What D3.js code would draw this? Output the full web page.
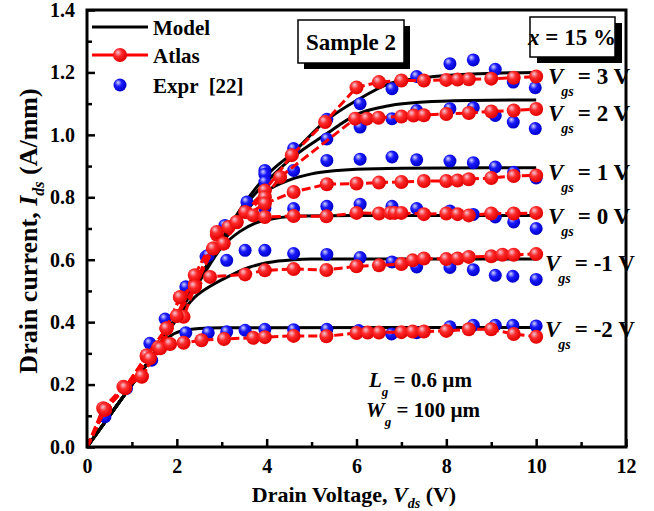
<!DOCTYPE html>
<html><head><meta charset="utf-8">
<script src="https://cdn.jsdelivr.net/npm/d3@7"></script>
<style>
body{margin:0;background:#fff;}
text{font-family:"Liberation Serif","Times New Roman",serif;font-weight:bold;}
</style></head>
<body><svg id="chart" width="654" height="511"></svg>
<script>
// ---------- DATA ----------
const xTicksMajor = [0,2,4,6,8,10,12];
const yTicksMajor = [0,0.2,0.4,0.6,0.8,1.0,1.2,1.4];
const vgsLabels = ["3 V","2 V","1 V","0 V","-1 V","-2 V"];

const modelVgs3 = [[0,0],[0.5,0.1],[1,0.2],[1.5,0.3],[2,0.42],[2.5,0.54],[3,0.665],[3.5,0.78],[4,0.87],[4.6,0.945],[5.3,1.043],[6,1.11],[6.75,1.165],[7.5,1.183],[8.75,1.196],[10,1.2]];
const modelVgs2 = [[0,0],[0.5,0.1],[1,0.2],[1.5,0.3],[2,0.42],[2.5,0.54],[3,0.66],[3.5,0.77],[4,0.85],[4.6,0.93],[5.3,1.0],[6,1.065],[6.75,1.094],[7.5,1.105],[8.5,1.11],[10,1.112]];
const modelVgs1 = [[0,0],[0.5,0.1],[1,0.2],[1.5,0.3],[2,0.42],[2.5,0.54],[3,0.65],[3.5,0.75],[4,0.82],[4.5,0.855],[5,0.875],[5.5,0.885],[6,0.89],[7,0.893],[10,0.895]];
const modelVgs0 = [[0,0],[0.5,0.1],[1,0.2],[1.5,0.3],[2,0.42],[2.5,0.53],[3,0.64],[3.4,0.69],[3.8,0.72],[4.2,0.733],[4.8,0.74],[6,0.742],[10,0.742]];
const modelVgsM1 = [[0,0],[0.5,0.1],[1,0.2],[1.5,0.3],[2,0.41],[2.4,0.48],[2.8,0.52],[3.2,0.55],[3.6,0.575],[4,0.59],[4.6,0.6],[5,0.602],[10,0.602]];
const modelVgsM2 = [[0,0],[0.5,0.1],[1,0.2],[1.5,0.3],[1.8,0.35],[2.1,0.372],[2.5,0.38],[3,0.382],[10,0.383]];

const atlasVgs3 = [[0,0],[0.4,0.12],[0.85,0.19],[1.33,0.29],[1.77,0.38],[2.07,0.48],[2.4,0.52],[2.89,0.68],[3.33,0.72],[3.96,0.822],[4.56,0.935],[5.3,1.041],[6.0,1.152],[6.5,1.169],[7.0,1.174],[7.5,1.174],[8.0,1.176],[8.25,1.177],[8.5,1.178],[9.0,1.18],[9.5,1.183],[10.0,1.187]];
const atlasVgs2 = [[0,0],[0.4,0.12],[0.85,0.19],[1.33,0.29],[1.77,0.38],[2.07,0.48],[2.4,0.52],[2.81,0.636],[3.04,0.652],[3.52,0.753],[3.96,0.80],[4.3,0.865],[5.97,1.052],[6.23,1.052],[6.49,1.055],[7.0,1.059],[7.27,1.062],[7.5,1.063],[8.0,1.067],[8.5,1.07],[9.0,1.075],[9.5,1.078],[10.0,1.083]];
const atlasVgs1 = [[0,0],[0.36,0.124],[0.81,0.193],[1.22,0.225],[1.59,0.32],[2.0,0.42],[2.4,0.55],[2.89,0.689],[3.15,0.705],[3.96,0.78],[4.6,0.817],[5.34,0.842],[6.0,0.844],[6.5,0.847],[7.0,0.849],[7.5,0.852],[8.0,0.852],[8.25,0.854],[8.5,0.858],[9.0,0.862],[9.5,0.868],[10.0,0.870]];
const atlasVgs0 = [[0,0],[0.4,0.12],[0.85,0.19],[1.33,0.294],[1.77,0.38],[2.15,0.417],[2.4,0.513],[2.81,0.636],[3.04,0.652],[3.33,0.721],[3.7,0.742],[3.96,0.737],[4.6,0.74],[5.33,0.739],[6.0,0.75],[6.5,0.748],[6.75,0.75],[6.85,0.75],[7.0,0.75],[7.5,0.746],[8.0,0.748],[8.25,0.746],[8.5,0.742],[9.0,0.748],[9.5,0.748],[10.0,0.75]];
const atlasVgsM1 = [[0,0],[0.4,0.12],[0.85,0.19],[1.22,0.227],[1.63,0.316],[2.0,0.42],[2.4,0.513],[2.74,0.545],[3.52,0.553],[3.96,0.566],[4.6,0.57],[5.33,0.567],[6.0,0.579],[6.5,0.582],[7.0,0.586],[7.25,0.598],[7.5,0.604],[8.0,0.602],[8.25,0.604],[8.5,0.609],[9.0,0.611],[9.25,0.616],[9.5,0.616],[10.0,0.618]];
const atlasVgsM2 = [[0,0],[0.4,0.12],[0.85,0.19],[1.4,0.284],[1.85,0.33],[2.15,0.334],[2.55,0.342],[3.05,0.346],[3.7,0.35],[3.96,0.352],[4.6,0.356],[5.33,0.355],[6.0,0.365],[6.25,0.367],[6.5,0.367],[7.0,0.368],[7.25,0.37],[7.5,0.37],[8.0,0.372],[8.5,0.377],[9.0,0.377],[9.5,0.362],[10.0,0.353]];

const exprVgs3 = [[0.4,0.097],[0.88,0.188],[1.44,0.278],[1.74,0.41],[2.2,0.513],[2.65,0.61],[3.07,0.71],[3.56,0.785],[3.96,0.886],[4.6,0.956],[5.34,1.05],[6.08,1.1],[6.79,1.148],[7.34,1.187],[8.08,1.228],[8.6,1.24],[9.09,1.21],[9.49,1.169],[9.98,1.151]];
const exprVgs2 = [[3.96,0.874],[5.34,0.987],[6.08,1.025],[6.79,1.052],[7.34,1.078],[8.08,1.084],[8.6,1.087],[9.09,1.062],[9.49,1.041],[9.98,1.02]];
const exprVgs1 = [[3.96,0.849],[4.6,0.886],[5.34,0.918],[6.08,0.922],[6.79,0.929],[7.34,0.92],[8.08,0.916],[8.6,0.911],[9.09,0.897],[9.5,0.88],[10.0,0.862]];
const exprVgs0 = [[3.96,0.765],[4.6,0.764],[5.34,0.771],[6.08,0.778],[6.79,0.771],[7.34,0.764],[8.08,0.756],[8.6,0.745],[9.09,0.737],[9.5,0.721],[10.0,0.70]];
const exprVgsM1 = [[2.7,0.614],[3.11,0.598],[3.52,0.63],[3.96,0.63],[4.6,0.62],[5.34,0.617],[6.08,0.607],[6.79,0.593],[7.34,0.577],[8.08,0.575],[8.6,0.568],[9.09,0.55],[9.48,0.547],[10.0,0.537]];
const exprVgsM2 = [[1.4,0.332],[2.2,0.366],[2.7,0.366],[3.11,0.369],[3.52,0.374],[3.96,0.377],[4.6,0.376],[5.34,0.377],[6.05,0.373],[6.78,0.362],[7.34,0.366],[8.08,0.385],[8.6,0.39],[9.09,0.39],[9.48,0.39],[10.0,0.388]];

const modelSeries = [modelVgs3, modelVgs2, modelVgs1, modelVgs0, modelVgsM1, modelVgsM2];
const atlasSeries = [atlasVgs3, atlasVgs2, atlasVgs1, atlasVgs0, atlasVgsM1, atlasVgsM2];
const exprSeries = [exprVgs3, exprVgs2, exprVgs1, exprVgs0, exprVgsM1, exprVgsM2];
const labelCurrent = [1.2, 1.082, 0.893, 0.752, 0.603, 0.392];

// ---------- CHART ----------
const svg = d3.select("#chart");
const L = 87, R = 626, T = 10, B = 447;
const x = d3.scaleLinear().domain([0,12]).range([L,R]);
const y = d3.scaleLinear().domain([0,1.4]).range([B,T]);

const defs = svg.append("defs");
function ballGrad(id, hi, mid, dark){
  const g = defs.append("radialGradient").attr("id",id)
    .attr("cx","40%").attr("cy","40%").attr("r","60%").attr("fx","35%").attr("fy","30%");
  g.append("stop").attr("offset","0%").attr("stop-color",hi);
  g.append("stop").attr("offset","45%").attr("stop-color",mid);
  g.append("stop").attr("offset","100%").attr("stop-color",dark);
}
ballGrad("gRed","#f4c8d8","#ff2a2a","#e00000");
ballGrad("gBlue","#d8d8ff","#1a1aff","#0000c8");

const clip = defs.append("clipPath").attr("id","plotclip");
clip.append("rect").attr("x",L).attr("y",T).attr("width",R-L).attr("height",B-T);

// axes ticks (inward)
const xAxis = svg.append("g").attr("transform",`translate(0,${B})`)
  .call(d3.axisBottom(x).tickValues(xTicksMajor).tickSizeInner(-8).tickSizeOuter(0).tickPadding(12).tickFormat(d3.format("d")));
const xMinor = svg.append("g").attr("transform",`translate(0,${B})`)
  .call(d3.axisBottom(x).tickValues(d3.range(1,12,2)).tickSizeInner(-5).tickSizeOuter(0).tickFormat(""));
const yAxis = svg.append("g").attr("transform",`translate(${L},0)`)
  .call(d3.axisLeft(y).tickValues(yTicksMajor).tickSizeInner(-8).tickSizeOuter(0).tickPadding(12).tickFormat(d3.format(".1f")));
const yMinor = svg.append("g").attr("transform",`translate(${L},0)`)
  .call(d3.axisLeft(y).tickValues(d3.range(0.1,1.4,0.2)).tickSizeInner(-5).tickSizeOuter(0).tickFormat(""));
[xAxis,xMinor,yAxis,yMinor].forEach(g=>{
  g.select(".domain").remove();
  g.selectAll(".tick line").attr("stroke","#000").attr("stroke-width",2.5);
  g.selectAll(".tick text").attr("fill","#000").style("font-size","20px")
    .style("font-family","'Liberation Serif','Times New Roman',serif").style("font-weight","bold");
});
xAxis.selectAll(".tick text").attr("dy","0.71em");
yAxis.selectAll(".tick text").attr("dx","0");

const plot = svg.append("g").attr("clip-path","url(#plotclip)");

// model lines
const lineM = d3.line().x(d=>x(d[0])).y(d=>y(d[1])).curve(d3.curveMonotoneX);
plot.selectAll(".model").data(modelSeries).enter().append("path")
  .attr("d",lineM).attr("fill","none").attr("stroke","#000").attr("stroke-width",3);

// expr balls
exprSeries.forEach(s=>{
  plot.selectAll(null).data(s).enter().append("circle")
    .attr("cx",d=>x(d[0])).attr("cy",d=>y(d[1])).attr("r",6.5).attr("fill","url(#gBlue)");
});

// atlas lines and balls
const lineA = d3.line().x(d=>x(d[0])).y(d=>y(d[1]));
atlasSeries.forEach(s=>{
  plot.append("path").datum(s).attr("d",lineA).attr("fill","none")
    .attr("stroke","#ff0000").attr("stroke-width",3).attr("stroke-dasharray","9,4");
});
atlasSeries.forEach(s=>{
  plot.selectAll(null).data(s.slice(1)).enter().append("circle")
    .attr("cx",d=>x(d[0])).attr("cy",d=>y(d[1])).attr("r",7).attr("fill","url(#gRed)");
});

// frame
svg.append("rect").attr("x",L).attr("y",T).attr("width",R-L).attr("height",B-T)
  .attr("fill","none").attr("stroke","#000").attr("stroke-width",3);

// Vgs labels
vgsLabels.forEach((lab,i)=>{
  const neg = lab.startsWith("-");
  const t = svg.append("text").attr("x", neg ? 545 : 548).attr("y", y(labelCurrent[i]) + 12)
    .style("font-size","23px").attr("fill","#000");
  t.append("tspan").text("V").style("font-style","italic");
  t.append("tspan").text("gs").style("font-style","italic").style("font-size","14px").attr("dx",-2).attr("dy",12);
  t.append("tspan").text("= " + lab).attr("dx",4).attr("dy",-12);
});

// legend
const lg = svg.append("g");
lg.append("line").attr("x1",92).attr("x2",148).attr("y1",27).attr("y2",27).attr("stroke","#000").attr("stroke-width",3);
lg.append("text").attr("x",153).attr("y",35).text("Model").style("font-size","21px");
lg.append("line").attr("x1",92).attr("x2",148).attr("y1",55).attr("y2",55).attr("stroke","#ff0000").attr("stroke-width",3);
lg.append("circle").attr("cx",120).attr("cy",55).attr("r",7).attr("fill","url(#gRed)");
lg.append("text").attr("x",153).attr("y",63).text("Atlas").style("font-size","21px");
lg.append("circle").attr("cx",120).attr("cy",85).attr("r",6.5).attr("fill","url(#gBlue)");
lg.append("text").attr("x",153).attr("y",93).attr("xml:space","preserve").style("white-space","pre").text("Expr  [22]").style("font-size","21px");

// Sample 2 box
svg.append("rect").attr("x",304).attr("y",26).attr("width",106).attr("height",43).attr("fill","#000");
svg.append("rect").attr("x",298).attr("y",20).attr("width",106).attr("height",43).attr("fill","#fff").attr("stroke","#000").attr("stroke-width",1.5);
svg.append("text").attr("x",351).attr("y",50).attr("text-anchor","middle").style("font-size","23px").text("Sample 2");

// x = 15 % box
svg.append("rect").attr("x",537).attr("y",23).attr("width",85).attr("height",40).attr("fill","#000");
svg.append("rect").attr("x",530).attr("y",17).attr("width",85).attr("height",40).attr("fill","#fff").attr("stroke","#000").attr("stroke-width",1.5);
const xt = svg.append("text").attr("x",572).attr("y",45).attr("text-anchor","middle").style("font-size","23px");
xt.append("tspan").text("x").style("font-style","italic");
xt.append("tspan").text(" = 15 %");

// Lg, Wg annotation
const lgT = svg.append("text").attr("x",369).attr("y",387).style("font-size","21px");
lgT.append("tspan").text("L").style("font-style","italic");
lgT.append("tspan").text("g").style("font-style","italic").style("font-size","13px").attr("dy",9);
lgT.append("tspan").text(" = 0.6 µm").attr("dy",-9);
const wgT = svg.append("text").attr("x",366).attr("y",417).style("font-size","21px");
wgT.append("tspan").text("W").style("font-style","italic");
wgT.append("tspan").text("g").style("font-style","italic").style("font-size","13px").attr("dy",9);
wgT.append("tspan").text(" = 100 µm").attr("dy",-9);

// axis titles
const xtT = svg.append("text").attr("x",354).attr("y",502).attr("text-anchor","middle").style("font-size","22px");
xtT.append("tspan").text("Drain Voltage, ");
xtT.append("tspan").text("V").style("font-style","italic");
xtT.append("tspan").text("ds").style("font-style","italic").style("font-size","14px").attr("dy",6);
xtT.append("tspan").text(" (V)").attr("dy",-6);

const ytT = svg.append("text").attr("transform","translate(37,231) rotate(-90)").attr("text-anchor","middle").style("font-size","26px");
ytT.append("tspan").text("Drain current, ");
ytT.append("tspan").text("I").style("font-style","italic");
ytT.append("tspan").text("ds").style("font-style","italic").style("font-size","16px").attr("dy",7);
ytT.append("tspan").text(" (A/mm)").attr("dy",-7);
</script></body></html>
